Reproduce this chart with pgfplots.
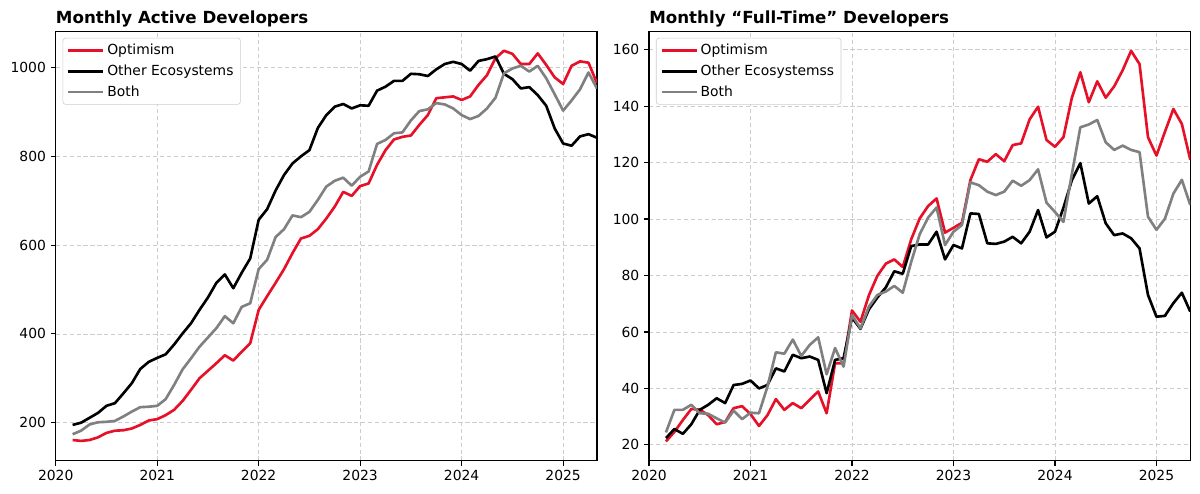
\documentclass[border=0pt]{standalone}
\usepackage{fontspec}
\setmainfont{DejaVu Sans}
\usepackage{pgfplots}
\usepackage{pgfplotstable}
\pgfplotsset{compat=1.18}
\definecolor{opred}{RGB}{230,16,40}
\definecolor{bothgray}{RGB}{128,128,128}
\definecolor{gridc}{RGB}{204,204,204}

% month index (0 = Jan 2020)
\pgfplotstableread{
m opt other both
2 161 195 174
3 159 200 182
4 161 211 196
5 167 222 201
6 177 238 202
7 182 244 204
8 183 266 214
9 187 289 225
10 195 321 235
11 205 337 236
12 208 346 238
13 217 354 253
14 229 376 285
15 249 401 320
16 274 424 345
17 300 454 371
18 317 482 392
19 334 515 413
20 352 534 440
21 340 503 424
22 360 538 461
23 379 570 469
24 454 657 546
25 485 681 567
26 515 723 618
27 546 758 636
28 582 784 667
29 615 800 663
30 621 814 675
31 636 864 702
32 660 893 732
33 687 912 745
34 720 918 752
35 711 908 734
36 733 915 754
37 739 914 766
38 781 948 828
39 814 957 837
40 838 970 852
41 844 970 854
42 847 986 881
43 871 985 902
44 893 981 906
45 931 996 920
46 933 1008 917
47 935 1013 908
48 927 1008 893
49 935 993 884
50 961 1015 891
51 983 1019 908
52 1021 1025 932
53 1038 986 987
54 1031 974 998
55 1008 953 1004
56 1008 956 991
57 1032 938 1004
58 1006 914 976
59 978 863 940
60 963 829 903
61 1004 824 926
62 1014 845 951
63 1011 850 989
64 965 842 953
}\activetable

\pgfplotstableread{
m opt other both
2 21.2 22.4 24.4
3 24.6 25.6 32.4
4 28.8 23.9 32.4
5 32.7 27.3 34.2
6 32.5 32.4 31.2
7 30.5 34.2 31.0
8 27.3 36.5 29.4
9 28.1 34.8 27.9
10 33.0 41.2 32.1
11 33.7 41.6 29.1
12 30.9 42.8 31.4
13 26.7 40.0 31.2
14 30.5 41.2 40.6
15 36.2 47.1 52.8
16 32.4 46.0 52.3
17 34.8 51.9 57.3
18 33.0 50.7 51.5
19 36.0 51.3 55.4
20 38.9 50.1 58.1
21 31.2 38.3 45.0
22 48.9 50.1 54.3
23 48.9 50.7 47.7
24 67.6 65.1 66.0
25 63.6 61.1 61.3
26 73.0 68.0 69.0
27 79.9 72.2 73.1
28 84.2 75.8 74.3
29 85.7 81.5 76.3
30 83.0 80.6 73.9
31 92.8 90.4 84.8
32 100.2 91.0 94.6
33 104.6 91.0 100.5
34 107.3 95.5 104.1
35 95.2 85.7 90.8
36 96.9 90.8 95.5
37 98.7 89.6 97.9
38 113.8 102.0 113.0
39 121.2 101.8 112.0
40 120.3 91.4 109.7
41 123.0 91.2 108.5
42 120.5 92.0 109.7
43 126.2 93.7 113.6
44 126.8 91.4 111.8
45 135.3 95.5 113.8
46 139.8 103.2 117.6
47 128.0 93.5 105.8
48 125.6 95.5 102.5
49 129.0 104.0 99.0
50 143.0 113.8 116.0
51 152.0 119.8 132.5
52 141.4 105.5 133.5
53 148.8 108.1 135.1
54 143.0 98.5 127.2
55 147.0 94.3 124.5
56 152.7 94.9 126.0
57 159.6 93.2 124.5
58 154.9 89.6 123.7
59 129.0 73.1 100.8
60 122.5 65.4 96.2
61 130.9 65.7 100.1
62 139.0 70.2 109.0
63 133.7 73.9 113.9
64 121.0 67.2 105.0
}\fulltable

\pgfplotsset{
 mystyle/.style={
  scale only axis, width=389.7pt, height=308.9pt,
  anchor=south west,
  xmin=0, xmax=64,
  xtick={0,12,24,36,48,60},
  xticklabels={2020,2021,2022,2023,2024,2025},
  tick align=outside, xtick pos=bottom, ytick pos=left,
  major tick length=3.5pt,
  every tick/.style={black, line width=0.8pt},
  axis line style={line width=0.8pt},
  grid=major,
  major grid style={gridc, dash pattern=on 3pt off 2pt, line width=0.6pt},
  tick label style={font=\fontsize{10}{12}\selectfont},
  /pgf/number format/assume math mode=true,
  /pgf/number format/1000 sep={},
  title style={at={(0,1)}, anchor=base west, yshift=0pt,
    font=\fontsize{12}{14}\selectfont\bfseries, inner sep=0pt},
  legend style={at={(0,1)}, anchor=north west, xshift=5pt, yshift=-4.5pt,
    draw=gridc, rounded corners=2pt, fill=white,
    font=\fontsize{10}{12}\selectfont, inner xsep=3pt, inner ysep=2.4pt,
    row sep=1.8pt},
  legend cell align=left,
  legend image code/.code={%
    \draw[#1, line width=2pt] (0pt,0pt) -- (22pt,0pt);
    \path (0pt,0pt) -- (25pt,0pt);},
  every axis plot/.append style={line width=1.9pt, line join=round},
 }
}

\begin{document}
\begin{tikzpicture}
\useasboundingbox (0,0) rectangle (864pt,355.68pt);
\begin{axis}[mystyle, at={(40.1pt,24.0pt)},
  ymin=114.5, ymax=1081, ytick={200,400,600,800,1000},
  title={Monthly Active Developers}]
\addplot[opred] table[x=m,y=opt] {\activetable};
\addlegendentry{Optimism}
\addplot[black] table[x=m,y=other] {\activetable};
\addlegendentry{Other Ecosystems}
\addplot[bothgray] table[x=m,y=both] {\activetable};
\addlegendentry{Both}
\end{axis}
\begin{axis}[mystyle, at={(467.3pt,24.0pt)},
  ymin=14.4, ymax=166.4, ytick={20,40,...,160},
  title={Monthly “Full-Time” Developers}]
\addplot[opred] table[x=m,y=opt] {\fulltable};
\addlegendentry{Optimism}
\addplot[black] table[x=m,y=other] {\fulltable};
\addlegendentry{Other Ecosystemss}
\addplot[bothgray] table[x=m,y=both] {\fulltable};
\addlegendentry{Both}
\end{axis}
\end{tikzpicture}
\end{document}
